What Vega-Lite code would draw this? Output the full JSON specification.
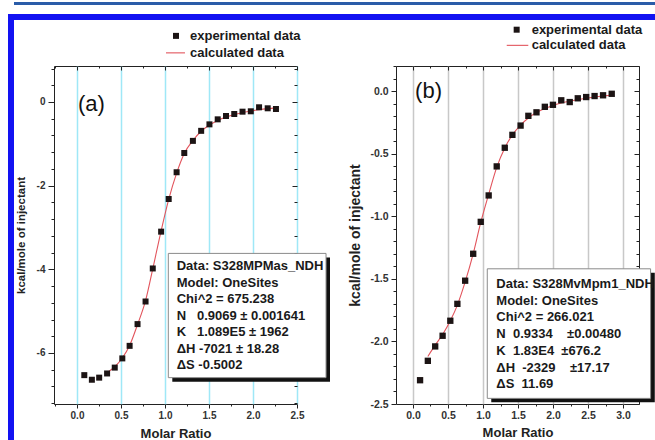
{
  "$schema": "https://vega.github.io/schema/vega-lite/v6.json",
  "background": "white",
  "padding": {"left": 8, "top": 0, "right": 0, "bottom": 0},
  "config": {
    "view": {"stroke": null},
    "font": "Liberation Sans",
    "axis": {"domain": false, "tickColor": "#222", "labelColor": "#333", "titleColor": "#222", "labelFontWeight": "bold", "titleFontWeight": "bold", "titleFont": "Liberation Sans", "labelOverlap": false, "labelFlush": false}
  },
  "datasets": {
    "expA": [
      {"ratio": 0.083, "heat": -6.53}, {"ratio": 0.169, "heat": -6.64}, {"ratio": 0.252, "heat": -6.59},
      {"ratio": 0.342, "heat": -6.49}, {"ratio": 0.429, "heat": -6.35}, {"ratio": 0.515, "heat": -6.13},
      {"ratio": 0.598, "heat": -5.83}, {"ratio": 0.688, "heat": -5.31}, {"ratio": 0.779, "heat": -4.77},
      {"ratio": 0.861, "heat": -3.98}, {"ratio": 0.956, "heat": -3.10}, {"ratio": 1.042, "heat": -2.32},
      {"ratio": 1.132, "heat": -1.68}, {"ratio": 1.219, "heat": -1.22}, {"ratio": 1.317, "heat": -0.93},
      {"ratio": 1.411, "heat": -0.69}, {"ratio": 1.505, "heat": -0.535}, {"ratio": 1.599, "heat": -0.415},
      {"ratio": 1.693, "heat": -0.335}, {"ratio": 1.787, "heat": -0.287}, {"ratio": 1.881, "heat": -0.232},
      {"ratio": 1.975, "heat": -0.223}, {"ratio": 2.069, "heat": -0.127}, {"ratio": 2.167, "heat": -0.151},
      {"ratio": 2.261, "heat": -0.168}
    ],
    "calcA": [
      {"ratio": 0.342, "heat": -6.47}, {"ratio": 0.429, "heat": -6.33}, {"ratio": 0.515, "heat": -6.12},
      {"ratio": 0.598, "heat": -5.82}, {"ratio": 0.688, "heat": -5.32}, {"ratio": 0.779, "heat": -4.75},
      {"ratio": 0.861, "heat": -3.99}, {"ratio": 0.956, "heat": -3.08}, {"ratio": 1.042, "heat": -2.33},
      {"ratio": 1.132, "heat": -1.70}, {"ratio": 1.219, "heat": -1.23}, {"ratio": 1.317, "heat": -0.92},
      {"ratio": 1.411, "heat": -0.70}, {"ratio": 1.505, "heat": -0.55}, {"ratio": 1.599, "heat": -0.44},
      {"ratio": 1.693, "heat": -0.36}, {"ratio": 1.787, "heat": -0.30}, {"ratio": 1.881, "heat": -0.25},
      {"ratio": 1.975, "heat": -0.215}, {"ratio": 2.069, "heat": -0.185}, {"ratio": 2.167, "heat": -0.16},
      {"ratio": 2.261, "heat": -0.14}
    ],
    "expB": [
      {"ratio": 0.101, "heat": -2.31}, {"ratio": 0.212, "heat": -2.155}, {"ratio": 0.317, "heat": -2.04},
      {"ratio": 0.423, "heat": -1.955}, {"ratio": 0.533, "heat": -1.835}, {"ratio": 0.634, "heat": -1.70},
      {"ratio": 0.745, "heat": -1.515}, {"ratio": 0.860, "heat": -1.30}, {"ratio": 0.968, "heat": -1.045},
      {"ratio": 1.081, "heat": -0.834}, {"ratio": 1.196, "heat": -0.602}, {"ratio": 1.311, "heat": -0.453},
      {"ratio": 1.420, "heat": -0.35}, {"ratio": 1.537, "heat": -0.276}, {"ratio": 1.648, "heat": -0.198},
      {"ratio": 1.764, "heat": -0.170}, {"ratio": 1.883, "heat": -0.126}, {"ratio": 1.999, "heat": -0.110},
      {"ratio": 2.118, "heat": -0.074}, {"ratio": 2.239, "heat": -0.088}, {"ratio": 2.354, "heat": -0.058},
      {"ratio": 2.474, "heat": -0.048}, {"ratio": 2.594, "heat": -0.040}, {"ratio": 2.715, "heat": -0.034},
      {"ratio": 2.839, "heat": -0.022}
    ],
    "calcB": [
      {"ratio": 0.212, "heat": -2.12}, {"ratio": 0.317, "heat": -2.03}, {"ratio": 0.423, "heat": -1.945},
      {"ratio": 0.533, "heat": -1.835}, {"ratio": 0.634, "heat": -1.71}, {"ratio": 0.745, "heat": -1.525},
      {"ratio": 0.860, "heat": -1.30}, {"ratio": 0.968, "heat": -1.05}, {"ratio": 1.081, "heat": -0.825},
      {"ratio": 1.196, "heat": -0.61}, {"ratio": 1.311, "heat": -0.455}, {"ratio": 1.420, "heat": -0.35},
      {"ratio": 1.537, "heat": -0.272}, {"ratio": 1.648, "heat": -0.215}, {"ratio": 1.764, "heat": -0.172},
      {"ratio": 1.883, "heat": -0.14}, {"ratio": 1.999, "heat": -0.115}, {"ratio": 2.118, "heat": -0.096},
      {"ratio": 2.239, "heat": -0.081}, {"ratio": 2.354, "heat": -0.068}, {"ratio": 2.474, "heat": -0.057},
      {"ratio": 2.594, "heat": -0.048}, {"ratio": 2.715, "heat": -0.04}, {"ratio": 2.839, "heat": -0.033}
    ]
  },
  "bounds": "flush",
  "spacing": 0,
  "columns": 6,
  "concat": [
    {"width": 6, "height": 3, "data": {"values": [{}]}, "mark": {"type": "point", "opacity": 0}, "view": {"stroke": null}},
    {"width": 40, "height": 3, "data": {"values": [{}]}, "mark": {"type": "point", "opacity": 0}, "view": {"stroke": null, "fill": "#2a5ca8"}},
    {"width": 243, "height": 3, "data": {"values": [{}]}, "mark": {"type": "point", "opacity": 0}, "view": {"stroke": null, "fill": "#2a5ca8"}},
    {"width": 99, "height": 3, "data": {"values": [{}]}, "mark": {"type": "point", "opacity": 0}, "view": {"stroke": null, "fill": "#2a5ca8"}},
    {"width": 243, "height": 3, "data": {"values": [{}]}, "mark": {"type": "point", "opacity": 0}, "view": {"stroke": null, "fill": "#2a5ca8"}},
    {"width": 16, "height": 3, "data": {"values": [{}]}, "mark": {"type": "point", "opacity": 0}, "view": {"stroke": null, "fill": "#2a5ca8"}},

    {"width": 6, "height": 9, "data": {"values": [{}]}, "mark": {"type": "point", "opacity": 0}, "view": {"stroke": null}},
    {"width": 40, "height": 9, "data": {"values": [{}]}, "mark": {"type": "point", "opacity": 0}, "view": {"stroke": null}},
    {"width": 243, "height": 9, "data": {"values": [{}]}, "mark": {"type": "point", "opacity": 0}, "view": {"stroke": null}},
    {"width": 99, "height": 9, "data": {"values": [{}]}, "mark": {"type": "point", "opacity": 0}, "view": {"stroke": null}},
    {"width": 243, "height": 9, "data": {"values": [{}]}, "mark": {"type": "point", "opacity": 0}, "view": {"stroke": null}},
    {"width": 16, "height": 9, "data": {"values": [{}]}, "mark": {"type": "point", "opacity": 0}, "view": {"stroke": null}},

    {"width": 6, "height": 6, "data": {"values": [{}]}, "mark": {"type": "point", "opacity": 0}, "view": {"stroke": null, "fill": "#1212f2"}},
    {"width": 40, "height": 6, "data": {"values": [{}]}, "mark": {"type": "point", "opacity": 0}, "view": {"stroke": null, "fill": "#1212f2"}},
    {"width": 243, "height": 6, "data": {"values": [{}]}, "mark": {"type": "point", "opacity": 0}, "view": {"stroke": null, "fill": "#1212f2"}},
    {"width": 99, "height": 6, "data": {"values": [{}]}, "mark": {"type": "point", "opacity": 0}, "view": {"stroke": null, "fill": "#1212f2"}},
    {"width": 243, "height": 6, "data": {"values": [{}]}, "mark": {"type": "point", "opacity": 0}, "view": {"stroke": null, "fill": "#1212f2"}},
    {"width": 16, "height": 6, "data": {"values": [{}]}, "mark": {"type": "point", "opacity": 0}, "view": {"stroke": null, "fill": "#1212f2"}},

    {"width": 6, "height": 46, "data": {"values": [{}]}, "mark": {"type": "point", "opacity": 0}, "view": {"stroke": null, "fill": "#1212f2"}},
    {"width": 40, "height": 46, "data": {"values": [{}]}, "mark": {"type": "point", "opacity": 0}, "view": {"stroke": null}},
    {"width": 243, "height": 46, "data": {"values": [{}]}, "mark": {"type": "point", "opacity": 0}, "view": {"stroke": null}},
    {"width": 99, "height": 46, "data": {"values": [{}]}, "mark": {"type": "point", "opacity": 0}, "view": {"stroke": null}},
    {"width": 243, "height": 46, "data": {"values": [{}]}, "mark": {"type": "point", "opacity": 0}, "view": {"stroke": null}},
    {"width": 16, "height": 46, "data": {"values": [{}]}, "mark": {"type": "point", "opacity": 0}, "view": {"stroke": null}},

    {"width": 6, "height": 338, "data": {"values": [{}]}, "mark": {"type": "point", "opacity": 0}, "view": {"stroke": null, "fill": "#1212f2"}},
    {"width": 40, "height": 338, "data": {"values": [{}]}, "mark": {"type": "point", "opacity": 0}, "view": {"stroke": null}},
    {
      "width": 243,
      "height": 338,
      "view": {"stroke": "#222", "strokeWidth": 1},
      "resolve": {"axis": {"x": "independent", "y": "independent"}},
      "layer": [
        {
          "data": {"name": "calcA"},
          "mark": {"type": "line", "color": "#e2545c", "strokeWidth": 1.1, "interpolate": "monotone"},
          "encoding": {
            "x": {"field": "ratio", "type": "quantitative", "scale": {"domain": [-0.26136, 2.5], "nice": false, "zero": false},
              "axis": {"orient": "top", "values": [-0.25, 0, 0.25, 0.5, 0.75, 1, 1.25, 1.5, 1.75, 2, 2.25, 2.5], "labels": false, "title": null, "grid": false,
                "tickSize": {"condition": {"test": "abs(datum.value*2 - round(datum.value*2)) < 1e-6", "value": -4}, "value": -2}}},
            "y": {"field": "heat", "type": "quantitative", "scale": {"domain": [-7.22, 0.86], "nice": false, "zero": false},
              "axis": {"orient": "right", "values": [-7.2, -6.8, -6.4, -6, -5.6, -5.2, -4.8, -4.4, -4, -3.6, -3.2, -2.8, -2.4, -2, -1.6, -1.2, -0.8, -0.4, 0, 0.4, 0.8], "labels": false, "title": null, "grid": false,
                "tickSize": {"condition": {"test": "abs(datum.value/2 - round(datum.value/2)) < 1e-6", "value": -5}, "value": -3}}}
          }
        },
        {
          "data": {"name": "expA"},
          "mark": {"type": "point", "shape": "square", "filled": true, "size": 36, "color": "#1c1414", "opacity": 1},
          "encoding": {
            "x": {"field": "ratio", "type": "quantitative", "scale": {"domain": [-0.26136, 2.5], "nice": false, "zero": false},
              "axis": {"orient": "bottom", "values": [-0.25, 0, 0.25, 0.5, 0.75, 1, 1.25, 1.5, 1.75, 2, 2.25, 2.5],
                "labelExpr": "abs(datum.value*2 - round(datum.value*2)) < 1e-6 ? format(datum.value, '.1f') : ''",
                "labelFont": "Liberation Sans Narrow, Liberation Sans", "labelFontSize": 10, "labelPadding": 2,
                "tickSize": {"condition": {"test": "abs(datum.value*2 - round(datum.value*2)) < 1e-6", "value": 4}, "value": 2},
                "grid": true, "gridColor": "#9fe8f7", "gridWidth": 1.5,
                "gridOpacity": {"condition": {"test": "abs(datum.value*2 - round(datum.value*2)) < 1e-6", "value": 1}, "value": 0},
                "title": "Molar Ratio", "titleFontSize": 13, "titlePadding": 7}},
            "y": {"field": "heat", "type": "quantitative", "scale": {"domain": [-7.22, 0.86], "nice": false, "zero": false},
              "axis": {"orient": "left", "values": [-7.2, -6.8, -6.4, -6, -5.6, -5.2, -4.8, -4.4, -4, -3.6, -3.2, -2.8, -2.4, -2, -1.6, -1.2, -0.8, -0.4, 0, 0.4, 0.8],
                "labelExpr": "abs(datum.value/2 - round(datum.value/2)) < 1e-6 ? (datum.value < 0 ? '-' : '') + format(abs(datum.value), 'd') : ''",
                "labelFont": "Liberation Sans Narrow, Liberation Sans", "labelFontSize": 10, "labelPadding": 3,
                "tickSize": {"condition": {"test": "abs(datum.value/2 - round(datum.value/2)) < 1e-6", "value": 6}, "value": 3},
                "grid": false, "title": "kcal/mole of injectant", "titleFontSize": 11.5, "titlePadding": 10}}
          }
        },
        {
          "data": {"values": [{}]},
          "mark": {"type": "rect", "fill": "#111"},
          "encoding": {
            "x": {"datum": 1.083, "type": "quantitative", "axis": null, "scale": {"domain": [-0.26136, 2.5], "nice": false, "zero": false}},
            "x2": {"datum": 2.875},
            "y": {"datum": -3.72, "type": "quantitative", "axis": null, "scale": {"domain": [-7.22, 0.86], "nice": false, "zero": false}},
            "y2": {"datum": -6.69}
          }
        },
        {
          "data": {"values": [{}]},
          "mark": {"type": "rect", "fill": "white", "stroke": "#8a8a8a", "strokeWidth": 1},
          "encoding": {
            "x": {"datum": 1.0375, "type": "quantitative", "axis": null, "scale": {"domain": [-0.26136, 2.5], "nice": false, "zero": false}},
            "x2": {"datum": 2.83},
            "y": {"datum": -3.62, "type": "quantitative", "axis": null, "scale": {"domain": [-7.22, 0.86], "nice": false, "zero": false}},
            "y2": {"datum": -6.59}
          }
        },
        {
          "data": {"values": [{}]},
          "mark": {"type": "text", "align": "left", "baseline": "middle", "font": "Liberation Sans", "fontSize": 13, "fontWeight": "bold", "color": "#1a1a1a", "lineHeight": 16.5,
            "text": ["Data: S328MPMas_NDH", "Model: OneSites", "Chi^2 = 675.238", "N\u00a0\u00a0\u00a00.9069 ± 0.001641", "K\u00a0\u00a0\u00a01.089E5 ± 1962", "ΔH -7021 ± 18.28", "ΔS -0.5002"]},
          "encoding": {
            "x": {"datum": 1.133, "type": "quantitative", "axis": null, "scale": {"domain": [-0.26136, 2.5], "nice": false, "zero": false}},
            "y": {"datum": -3.93, "type": "quantitative", "axis": null, "scale": {"domain": [-7.22, 0.86], "nice": false, "zero": false}}
          }
        },
        {
          "data": {"values": [{}]},
          "mark": {"type": "text", "align": "left", "baseline": "middle", "font": "Liberation Sans", "fontSize": 22, "color": "#111", "text": "(a)"},
          "encoding": {
            "x": {"datum": 0.01, "type": "quantitative", "axis": null, "scale": {"domain": [-0.26136, 2.5], "nice": false, "zero": false}},
            "y": {"datum": -0.04, "type": "quantitative", "axis": null, "scale": {"domain": [-7.22, 0.86], "nice": false, "zero": false}}
          }
        },
        {
          "data": {"values": [{}]},
          "mark": {"type": "point", "shape": "square", "filled": true, "size": 36, "color": "#1c1414", "opacity": 1},
          "encoding": {
            "x": {"datum": 1.125, "type": "quantitative", "axis": null, "scale": {"domain": [-0.26136, 2.5], "nice": false, "zero": false}},
            "y": {"datum": 1.58, "type": "quantitative", "axis": null, "scale": {"domain": [-7.22, 0.86], "nice": false, "zero": false}}
          }
        },
        {
          "data": {"values": [{}]},
          "mark": {"type": "rule", "color": "#e2545c", "strokeWidth": 1.1},
          "encoding": {
            "x": {"datum": 1.011, "type": "quantitative", "axis": null, "scale": {"domain": [-0.26136, 2.5], "nice": false, "zero": false}},
            "x2": {"datum": 1.227},
            "y": {"datum": 1.174, "type": "quantitative", "axis": null, "scale": {"domain": [-7.22, 0.86], "nice": false, "zero": false}}
          }
        },
        {
          "data": {"values": [{}]},
          "mark": {"type": "text", "align": "left", "baseline": "middle", "font": "Liberation Sans", "fontSize": 13, "fontWeight": "bold", "color": "#1a1a1a", "text": "experimental data"},
          "encoding": {
            "x": {"datum": 1.284, "type": "quantitative", "axis": null, "scale": {"domain": [-0.26136, 2.5], "nice": false, "zero": false}},
            "y": {"datum": 1.58, "type": "quantitative", "axis": null, "scale": {"domain": [-7.22, 0.86], "nice": false, "zero": false}}
          }
        },
        {
          "data": {"values": [{}]},
          "mark": {"type": "text", "align": "left", "baseline": "middle", "font": "Liberation Sans", "fontSize": 13, "fontWeight": "bold", "color": "#1a1a1a", "text": "calculated data"},
          "encoding": {
            "x": {"datum": 1.284, "type": "quantitative", "axis": null, "scale": {"domain": [-0.26136, 2.5], "nice": false, "zero": false}},
            "y": {"datum": 1.174, "type": "quantitative", "axis": null, "scale": {"domain": [-7.22, 0.86], "nice": false, "zero": false}}
          }
        }
      ]
    },
    {"width": 99, "height": 338, "data": {"values": [{}]}, "mark": {"type": "point", "opacity": 0}, "view": {"stroke": null}},
    {
      "width": 243,
      "height": 338,
      "view": {"stroke": "#222", "strokeWidth": 1},
      "resolve": {"axis": {"x": "independent", "y": "independent"}},
      "layer": [
        {
          "data": {"name": "calcB"},
          "mark": {"type": "line", "color": "#e2545c", "strokeWidth": 1.1, "interpolate": "monotone"},
          "encoding": {
            "x": {"field": "ratio", "type": "quantitative", "scale": {"domain": [-0.242857, 3.228571], "nice": false, "zero": false},
              "axis": {"orient": "top", "values": [0, 0.25, 0.5, 0.75, 1, 1.25, 1.5, 1.75, 2, 2.25, 2.5, 2.75, 3], "labels": false, "title": null, "grid": false,
                "tickSize": {"condition": {"test": "abs(datum.value*2 - round(datum.value*2)) < 1e-6", "value": -4}, "value": -2}}},
            "y": {"field": "heat", "type": "quantitative", "scale": {"domain": [-2.5, 0.2], "nice": false, "zero": false},
              "axis": {"orient": "right", "values": [-2.5, -2.4, -2.3, -2.2, -2.1, -2, -1.9, -1.8, -1.7, -1.6, -1.5, -1.4, -1.3, -1.2, -1.1, -1, -0.9, -0.8, -0.7, -0.6, -0.5, -0.4, -0.3, -0.2, -0.1, 0, 0.1, 0.2], "labels": false, "title": null, "grid": false,
                "tickSize": {"condition": {"test": "abs(datum.value*2 - round(datum.value*2)) < 1e-6", "value": -5}, "value": -3}}}
          }
        },
        {
          "data": {"name": "expB"},
          "mark": {"type": "point", "shape": "square", "filled": true, "size": 40, "color": "#1c1414", "opacity": 1},
          "encoding": {
            "x": {"field": "ratio", "type": "quantitative", "scale": {"domain": [-0.242857, 3.228571], "nice": false, "zero": false},
              "axis": {"orient": "bottom", "values": [0, 0.25, 0.5, 0.75, 1, 1.25, 1.5, 1.75, 2, 2.25, 2.5, 2.75, 3],
                "labelExpr": "abs(datum.value*2 - round(datum.value*2)) < 1e-6 ? format(datum.value, '.1f') : ''",
                "labelFont": "Liberation Sans", "labelFontSize": 10.5, "labelPadding": 2,
                "tickSize": {"condition": {"test": "abs(datum.value*2 - round(datum.value*2)) < 1e-6", "value": 4}, "value": 2},
                "grid": true, "gridColor": "#c8c8c8", "gridWidth": 1.5,
                "gridOpacity": {"condition": {"test": "abs(datum.value*2 - round(datum.value*2)) < 1e-6", "value": 1}, "value": 0},
                "title": "Molar Ratio", "titleFontSize": 13, "titlePadding": 6}},
            "y": {"field": "heat", "type": "quantitative", "scale": {"domain": [-2.5, 0.2], "nice": false, "zero": false},
              "axis": {"orient": "left", "values": [-2.5, -2.4, -2.3, -2.2, -2.1, -2, -1.9, -1.8, -1.7, -1.6, -1.5, -1.4, -1.3, -1.2, -1.1, -1, -0.9, -0.8, -0.7, -0.6, -0.5, -0.4, -0.3, -0.2, -0.1, 0, 0.1, 0.2],
                "labelExpr": "abs(datum.value*2 - round(datum.value*2)) < 1e-6 ? (datum.value < -1e-9 ? '-' : '') + format(abs(datum.value), '.1f') : ''",
                "labelFont": "Liberation Sans", "labelFontSize": 10.5, "labelPadding": 3,
                "tickSize": {"condition": {"test": "abs(datum.value*2 - round(datum.value*2)) < 1e-6", "value": 5}, "value": 3},
                "grid": false, "title": "kcal/mole of injectant", "titleFontSize": 14, "titlePadding": 7}}
          }
        },
        {
          "data": {"values": [{}]},
          "mark": {"type": "rect", "fill": "#111"},
          "encoding": {
            "x": {"datum": 1.118, "type": "quantitative", "axis": null, "scale": {"domain": [-0.242857, 3.228571], "nice": false, "zero": false}},
            "x2": {"datum": 3.454},
            "y": {"datum": -1.452, "type": "quantitative", "axis": null, "scale": {"domain": [-2.5, 0.2], "nice": false, "zero": false}},
            "y2": {"datum": -2.487}
          }
        },
        {
          "data": {"values": [{}]},
          "mark": {"type": "rect", "fill": "white", "stroke": "#8a8a8a", "strokeWidth": 1},
          "encoding": {
            "x": {"datum": 1.061, "type": "quantitative", "axis": null, "scale": {"domain": [-0.242857, 3.228571], "nice": false, "zero": false}},
            "x2": {"datum": 3.394},
            "y": {"datum": -1.42, "type": "quantitative", "axis": null, "scale": {"domain": [-2.5, 0.2], "nice": false, "zero": false}},
            "y2": {"datum": -2.455}
          }
        },
        {
          "data": {"values": [{}]},
          "mark": {"type": "text", "align": "left", "baseline": "middle", "font": "Liberation Sans", "fontSize": 13, "fontWeight": "bold", "color": "#1a1a1a", "lineHeight": 16.7,
            "text": ["Data: S328MvMpm1_NDH", "Model: OneSites", "Chi^2 = 266.021", "N\u00a0\u00a00.9334\u00a0\u00a0\u00a0\u00a0±0.00480", "K\u00a0\u00a01.83E4\u00a0\u00a0±676.2", "ΔH\u00a0\u00a0-2329\u00a0\u00a0\u00a0\u00a0±17.17", "ΔS\u00a0\u00a011.69"]},
          "encoding": {
            "x": {"datum": 1.19, "type": "quantitative", "axis": null, "scale": {"domain": [-0.242857, 3.228571], "nice": false, "zero": false}},
            "y": {"datum": -1.542, "type": "quantitative", "axis": null, "scale": {"domain": [-2.5, 0.2], "nice": false, "zero": false}}
          }
        },
        {
          "data": {"values": [{}]},
          "mark": {"type": "text", "align": "left", "baseline": "middle", "font": "Liberation Sans", "fontSize": 22, "color": "#111", "text": "(b)"},
          "encoding": {
            "x": {"datum": 0.03, "type": "quantitative", "axis": null, "scale": {"domain": [-0.242857, 3.228571], "nice": false, "zero": false}},
            "y": {"datum": 0.0, "type": "quantitative", "axis": null, "scale": {"domain": [-2.5, 0.2], "nice": false, "zero": false}}
          }
        },
        {
          "data": {"values": [{}]},
          "mark": {"type": "point", "shape": "square", "filled": true, "size": 36, "color": "#1c1414", "opacity": 1},
          "encoding": {
            "x": {"datum": 1.481, "type": "quantitative", "axis": null, "scale": {"domain": [-0.242857, 3.228571], "nice": false, "zero": false}},
            "y": {"datum": 0.49, "type": "quantitative", "axis": null, "scale": {"domain": [-2.5, 0.2], "nice": false, "zero": false}}
          }
        },
        {
          "data": {"values": [{}]},
          "mark": {"type": "rule", "color": "#e2545c", "strokeWidth": 1.1},
          "encoding": {
            "x": {"datum": 1.339, "type": "quantitative", "axis": null, "scale": {"domain": [-0.242857, 3.228571], "nice": false, "zero": false}},
            "x2": {"datum": 1.647},
            "y": {"datum": 0.365, "type": "quantitative", "axis": null, "scale": {"domain": [-2.5, 0.2], "nice": false, "zero": false}}
          }
        },
        {
          "data": {"values": [{}]},
          "mark": {"type": "text", "align": "left", "baseline": "middle", "font": "Liberation Sans", "fontSize": 13, "fontWeight": "bold", "color": "#1a1a1a", "text": "experimental data"},
          "encoding": {
            "x": {"datum": 1.695, "type": "quantitative", "axis": null, "scale": {"domain": [-0.242857, 3.228571], "nice": false, "zero": false}},
            "y": {"datum": 0.49, "type": "quantitative", "axis": null, "scale": {"domain": [-2.5, 0.2], "nice": false, "zero": false}}
          }
        },
        {
          "data": {"values": [{}]},
          "mark": {"type": "text", "align": "left", "baseline": "middle", "font": "Liberation Sans", "fontSize": 13, "fontWeight": "bold", "color": "#1a1a1a", "text": "calculated data"},
          "encoding": {
            "x": {"datum": 1.695, "type": "quantitative", "axis": null, "scale": {"domain": [-0.242857, 3.228571], "nice": false, "zero": false}},
            "y": {"datum": 0.365, "type": "quantitative", "axis": null, "scale": {"domain": [-2.5, 0.2], "nice": false, "zero": false}}
          }
        }
      ]
    },
    {"width": 16, "height": 338, "data": {"values": [{}]}, "mark": {"type": "point", "opacity": 0}, "view": {"stroke": null}},

    {"width": 6, "height": 38, "data": {"values": [{}]}, "mark": {"type": "point", "opacity": 0}, "view": {"stroke": null, "fill": "#1212f2"}},
    {"width": 40, "height": 38, "data": {"values": [{}]}, "mark": {"type": "point", "opacity": 0}, "view": {"stroke": null}},
    {"width": 243, "height": 38, "data": {"values": [{}]}, "mark": {"type": "point", "opacity": 0}, "view": {"stroke": null}},
    {"width": 99, "height": 38, "data": {"values": [{}]}, "mark": {"type": "point", "opacity": 0}, "view": {"stroke": null}},
    {"width": 243, "height": 38, "data": {"values": [{}]}, "mark": {"type": "point", "opacity": 0}, "view": {"stroke": null}},
    {"width": 16, "height": 38, "data": {"values": [{}]}, "mark": {"type": "point", "opacity": 0}, "view": {"stroke": null}}
  ]
}
